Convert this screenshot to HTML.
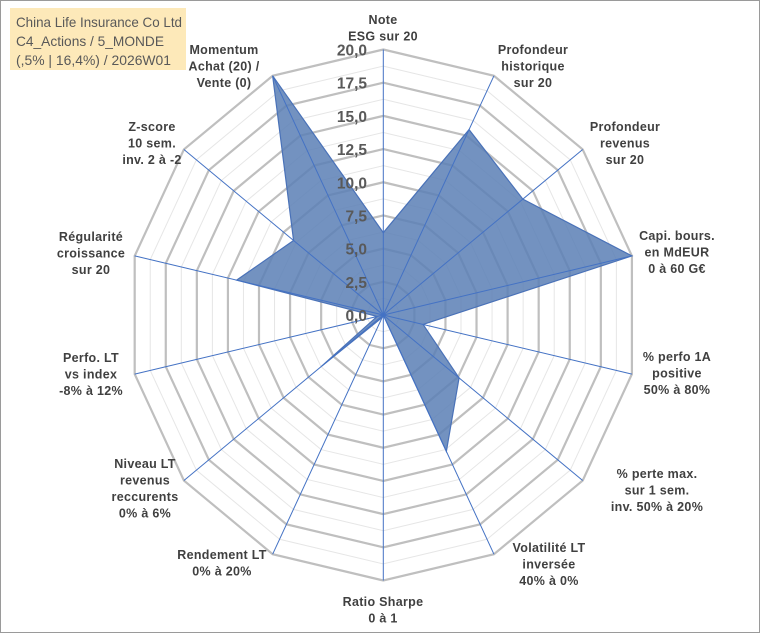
<!DOCTYPE html>
<html><head><meta charset="utf-8"><style>
html,body{margin:0;padding:0;background:#fff;}
#wrap{position:relative;width:760px;height:633px;overflow:hidden;}
svg text{font-family:"Liberation Sans",Arial,sans-serif;}
</style></head><body>
<div id="wrap">
<svg id="chart" width="760" height="633">
<rect x="0.5" y="0.5" width="759" height="632" fill="#fff" stroke="#9a9a9a"/>
<g id="grid"></g>
<g id="series"></g>
<g id="ticks"></g>
<g id="labels"></g>
<rect x="10" y="8" width="176" height="62" fill="#fde9b9"/>
<text x="16" y="27" font-size="14" fill="#595959" textLength="166" lengthAdjust="spacingAndGlyphs">China Life Insurance Co Ltd</text>
<text x="16" y="46" font-size="14" fill="#595959" textLength="148" lengthAdjust="spacingAndGlyphs">C4_Actions / 5_MONDE</text>
<text x="16" y="65" font-size="14" fill="#595959" textLength="155" lengthAdjust="spacingAndGlyphs">(,5% | 16,4%) / 2026W01</text>
</svg>
</div>
<script>
const categories = [
 ["Note","ESG sur 20"],
 ["Profondeur","historique","sur 20"],
 ["Profondeur","revenus","sur 20"],
 ["Capi. bours.","en MdEUR","0 à 60 G€"],
 ["% perfo 1A","positive","50% à 80%"],
 ["% perte max.","sur 1 sem.","inv. 50% à 20%"],
 ["Volatilité LT","inversée","40% à 0%"],
 ["Ratio Sharpe","0 à 1"],
 ["Rendement LT","0% à 20%"],
 ["Niveau LT","revenus","reccurents","0% à 6%"],
 ["Perfo. LT","vs index","-8% à 12%"],
 ["Régularité","croissance","sur 20"],
 ["Z-score","10 sem.","inv. 2 à -2"],
 ["Momentum","Achat (20) /","Vente (0)"]
];
const values = [6.2,15.5,14.0,20,3.2,7.6,11.4,0,0.2,6.2,0.5,11.8,9.0,20];
const tickValues = [0,2.5,5,7.5,10,12.5,15,17.5,20];
const tickLabels = ["0,0","2,5","5,0","7,5","10,0","12,5","15,0","17,5","20,0"];
const maxVal = 20;

const cx=383.3, cy=315, RX=255, RY=265.5;
const NS="http://www.w3.org/2000/svg";
const n=categories.length;
function ang(i){return i*2*Math.PI/n;}
function pt(i,v){const f=v/maxVal;return [cx+f*RX*Math.sin(ang(i)), cy-f*RY*Math.cos(ang(i))];}
function mk(tag,attrs,parent){const e=document.createElementNS(NS,tag);for(const k in attrs)e.setAttribute(k,attrs[k]);parent.appendChild(e);return e;}
const grid=document.getElementById('grid');
for(let k=0;k<tickValues.length-1;k++){
  const v=(tickValues[k]+tickValues[k+1])/2;
  const p=[];for(let i=0;i<n;i++)p.push(pt(i,v).join(','));
  const e=mk('polygon',{points:p.join(' '),fill:'none',stroke:'#e6e6e6','stroke-width':1},grid);
  
  
}
tickValues.forEach(v=>{
  if(v===0)return;
  const p=[];for(let i=0;i<n;i++)p.push(pt(i,v).join(','));
  const e=mk('polygon',{points:p.join(' '),fill:'none',stroke:'#bfbfbf','stroke-width':2.2},grid);
  
  
});
const ser=document.getElementById('series');
const sp=values.map((v,i)=>pt(i,v).join(','));
const poly=mk('polygon',{points:sp.join(' '),fill:'#5b7fb5','fill-opacity':0.85,stroke:'#4a72b8','stroke-width':1.2},ser);


for(let i=0;i<n;i++){
  const [x,y]=pt(i,maxVal);
  const l=mk('line',{x1:cx,y1:cy,x2:x,y2:y,stroke:'#4472c4','stroke-width':1},ser);
  
  
}
const ticks=document.getElementById('ticks');
tickValues.forEach((v,k)=>{
  const t=mk('text',{x:367,y:cy-v/maxVal*RY+6,'text-anchor':'end','font-size':15.5,'font-weight':'bold',fill:'#595959'},ticks);
  t.textContent=tickLabels[k];
  
  
});
const labels=document.getElementById('labels');
const lpos=[[383,20],[533,50],[625,127],[677,236],[677,357],[657,474],[549,548],[383,602],[222,555],[145,464],[91,358],[91,237],[152,127],[224,50]];
categories.forEach((lines,i)=>{
  const g=mk('g',{},labels);
  
  
  lines.forEach((s,j)=>{
    const t=mk('text',{x:lpos[i][0],y:lpos[i][1]+j*16.5+4,'text-anchor':'middle','font-size':12.5,'font-weight':'bold',fill:'#404040','letter-spacing':'0.3'},g);
    t.textContent=s;
  });
});
</script>
</body></html>
